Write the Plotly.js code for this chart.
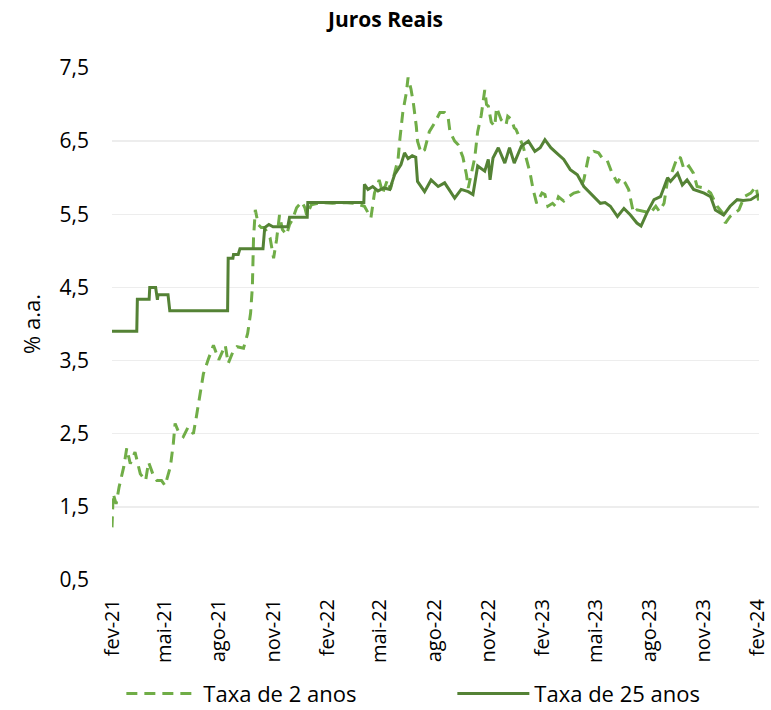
<!DOCTYPE html>
<html>
<head>
<meta charset="utf-8">
<script src="https://cdn.plot.ly/plotly-3.0.1.min.js"></script>
<style>html,body{margin:0;padding:0;background:#fff;}#chart{width:771px;height:710px;}</style>
</head>
<body>
<div id="chart"></div>
<script>
// Taxa de 2 anos (dashed)
const dates2 = ['2021-02-01','2021-02-03','2021-02-08','2021-02-13','2021-02-21','2021-02-26','2021-03-04','2021-03-12','2021-03-21','2021-03-30',
'2021-04-04','2021-04-13','2021-04-18','2021-04-26','2021-05-02','2021-05-11','2021-05-16','2021-05-19','2021-05-25','2021-06-02',
'2021-06-10','2021-06-19','2021-06-24','2021-06-30','2021-07-06','2021-07-14','2021-07-23','2021-08-01','2021-08-12','2021-08-17',
'2021-08-26','2021-09-01','2021-09-12','2021-09-19','2021-09-24','2021-09-27','2021-09-29','2021-10-02','2021-10-07','2021-10-12',
'2021-10-17','2021-10-27','2021-11-02','2021-11-07','2021-11-12','2021-11-17','2021-11-24','2021-11-29','2021-12-04','2021-12-11',
'2021-12-20','2021-12-25','2021-12-28','2022-01-05','2022-01-20','2022-02-10','2022-03-01','2022-03-20','2022-04-05','2022-04-16',
'2022-04-22','2022-04-30','2022-05-06','2022-05-14','2022-05-19','2022-05-26','2022-06-01','2022-06-04','2022-06-09','2022-06-15',
'2022-06-18','2022-06-23','2022-06-27','2022-07-02','2022-07-04','2022-07-10','2022-07-16','2022-07-24','2022-08-02','2022-08-11',
'2022-08-19','2022-08-25','2022-08-28','2022-09-05','2022-09-11','2022-09-19','2022-09-25','2022-09-28','2022-10-09','2022-10-14',
'2022-10-20','2022-10-26','2022-10-29','2022-11-01','2022-11-06','2022-11-12','2022-11-15','2022-11-23','2022-12-01','2022-12-04',
'2022-12-10','2022-12-15','2022-12-18','2022-12-30','2023-01-05','2023-01-11','2023-01-16','2023-01-22','2023-01-31','2023-02-05',
'2023-02-10','2023-02-18','2023-02-23','2023-02-28','2023-03-09','2023-03-17','2023-03-26','2023-04-04','2023-04-12','2023-04-20',
'2023-04-29','2023-05-07','2023-05-13','2023-05-21','2023-05-30','2023-06-08','2023-06-13','2023-06-21','2023-06-27','2023-07-03',
'2023-07-05','2023-07-11','2023-07-23','2023-08-03','2023-08-12','2023-08-18','2023-08-26','2023-09-01','2023-09-06','2023-09-12',
'2023-09-18','2023-09-23','2023-09-29','2023-10-07','2023-10-15','2023-10-21','2023-11-02','2023-11-13','2023-11-24','2023-12-03',
'2023-12-08','2023-12-16','2023-12-25','2023-12-31','2024-01-09','2024-01-20','2024-01-29','2024-02-03'];
const values2 = [1.22,1.68,1.54,1.77,2.05,2.30,2.09,2.25,1.95,1.86,
2.11,1.91,1.86,1.86,1.79,2.05,2.37,2.64,2.52,2.46,
2.59,2.50,2.73,3.00,3.32,3.51,3.71,3.51,3.71,3.46,
3.64,3.69,3.67,3.87,4.15,4.51,5.18,5.56,5.36,5.32,
5.32,5.18,4.90,5.15,5.49,5.29,5.22,5.36,5.43,5.59,
5.67,5.59,5.49,5.63,5.66,5.65,5.66,5.65,5.61,5.45,
5.79,5.97,5.79,5.97,5.84,6.06,6.25,6.52,6.89,7.16,
7.37,7.21,7.02,6.70,6.50,6.34,6.38,6.63,6.75,6.89,
6.89,6.82,6.63,6.50,6.45,6.28,6.04,5.86,6.27,6.63,
6.85,7.20,7.00,6.98,6.76,6.70,6.96,6.79,6.72,6.84,
6.80,6.68,6.66,6.43,6.25,6.06,5.84,5.65,5.79,5.77,
5.61,5.65,5.61,5.74,5.68,5.74,5.79,5.81,5.97,6.29,
6.36,6.34,6.27,6.25,6.06,5.93,6.00,5.93,5.84,5.61,
5.52,5.56,5.54,5.52,5.61,5.54,5.65,5.97,6.02,6.16,
6.29,6.27,6.11,6.16,6.06,5.88,5.86,5.79,5.61,5.52,
5.38,5.47,5.52,5.56,5.74,5.79,5.88,5.65];

// Taxa de 25 anos (solid)
const dates25 = ['2021-02-01','2021-03-15','2021-03-16','2021-04-05','2021-04-06','2021-04-16','2021-04-19','2021-04-20','2021-05-07','2021-05-10',
'2021-08-16','2021-08-17','2021-08-25','2021-08-26','2021-09-03','2021-09-06','2021-10-15','2021-10-18','2021-10-25','2021-11-01',
'2021-11-26','2021-11-29','2021-12-29','2021-12-30','2022-04-04','2022-04-05','2022-04-11','2022-04-19','2022-04-28','2022-05-08',
'2022-05-18','2022-05-26','2022-06-06','2022-06-12','2022-06-18','2022-06-25','2022-07-01','2022-07-04','2022-07-16','2022-07-27',
'2022-08-08','2022-08-19','2022-08-28','2022-09-05','2022-09-16','2022-09-28','2022-10-06','2022-10-14','2022-10-26','2022-11-01',
'2022-11-04','2022-11-09','2022-11-18','2022-11-29','2022-12-07','2022-12-15','2022-12-27','2023-01-08','2023-01-19','2023-01-28',
'2023-02-05','2023-02-15','2023-02-26','2023-03-09','2023-03-20','2023-04-01','2023-04-12','2023-04-23','2023-05-01','2023-05-10',
'2023-05-18','2023-05-27','2023-06-08','2023-06-19','2023-06-30','2023-07-11','2023-07-18','2023-07-28','2023-08-09','2023-08-20',
'2023-09-01','2023-09-06','2023-09-18','2023-09-26','2023-10-04','2023-10-15','2023-11-02','2023-11-13','2023-11-21','2023-12-05',
'2023-12-16','2023-12-28','2024-01-07','2024-01-20','2024-02-03'];
const values25 = [3.90,3.90,4.34,4.34,4.50,4.50,4.33,4.40,4.40,4.18,
4.18,4.90,4.90,4.95,4.95,5.03,5.03,5.32,5.36,5.33,
5.33,5.46,5.46,5.66,5.66,5.91,5.84,5.88,5.82,5.86,
5.84,6.04,6.18,6.34,6.26,6.30,6.28,5.95,5.81,5.97,
5.88,5.93,5.82,5.72,5.84,5.81,5.77,6.16,6.09,6.25,
5.97,6.27,6.41,6.20,6.41,6.20,6.43,6.50,6.36,6.41,
6.52,6.41,6.33,6.25,6.11,6.04,5.88,5.79,5.72,5.65,
5.66,5.61,5.47,5.58,5.49,5.38,5.34,5.52,5.70,5.74,
6.00,5.95,6.06,5.90,5.97,5.84,5.79,5.74,5.56,5.49,
5.61,5.70,5.69,5.70,5.77];

const tickDates = ['2021-02-01','2021-05-01','2021-08-01','2021-11-01','2022-02-01','2022-05-01','2022-08-01','2022-11-01','2023-02-01','2023-05-01','2023-08-01','2023-11-01','2024-02-01'];
const tickLabels = ['fev-21','mai-21','ago-21','nov-21','fev-22','mai-22','ago-22','nov-22','fev-23','mai-23','ago-23','nov-23','fev-24'];
const yTicks = [0.5,1.5,2.5,3.5,4.5,5.5,6.5,7.5];
const yTickLabels = ['0,5','1,5','2,5','3,5','4,5','5,5','6,5','7,5'];

const FONT = '"Open Sans", Lato, sans-serif';

const traces = [
  {x: dates2, y: values2, type:'scatter', mode:'lines', name:'Taxa de 2 anos',
   line:{color:'#70AD47', width:3, dash:'11px,7px'}},
  {x: dates25, y: values25, type:'scatter', mode:'lines', name:'Taxa de 25 anos',
   line:{color:'#548235', width:3}}
];

const layout = {
  width:771, height:710,
  margin:{l:112, r:12, t:68, b:130, autoexpand:false},
  paper_bgcolor:'#fff', plot_bgcolor:'#fff',
  font:{family:FONT, color:'#000', size:20},
  title:{text:'<b>Juros Reais</b>', x:0.5, xref:'container', xanchor:'center', y:0.972, yref:'container', yanchor:'middle', font:{size:21, family:FONT, color:'#000'}},
  xaxis:{type:'date', range:['2021-02-01','2024-02-03'], tickmode:'array', tickvals:tickDates, ticktext:tickLabels,
    tickangle:-90, showgrid:false, zeroline:false, showline:false, ticks:'', ticklabelstandoff:14,
    ticklabeloverflow:'allow', tickfont:{size:20, family:FONT, color:'#000'}},
  yaxis:{range:[0.5,7.5], tickmode:'array', tickvals:yTicks, ticktext:yTickLabels,
    showgrid:true, gridcolor:'#EDEDED', gridwidth:1.5, zeroline:false, showline:false, ticks:'',
    ticklabelstandoff:22, tickfont:{size:21, family:FONT, color:'#000'},
    title:{text:'% a.a.', standoff:12, font:{size:22, family:FONT, color:'#000'}}},
  showlegend:true,
  legend:{orientation:'h', xref:'paper', yref:'paper', x:-0.001, xanchor:'left', y:-0.222, yanchor:'middle',
    indentation:10, bgcolor:'rgba(0,0,0,0)',
    itemwidth:72, entrywidth:234, entrywidthmode:'pixels', font:{size:22, family:FONT, color:'#000'}, traceorder:'normal'}
};

Plotly.newPlot('chart', traces, layout, {displayModeBar:false, staticPlot:true});
</script>
</body>
</html>
